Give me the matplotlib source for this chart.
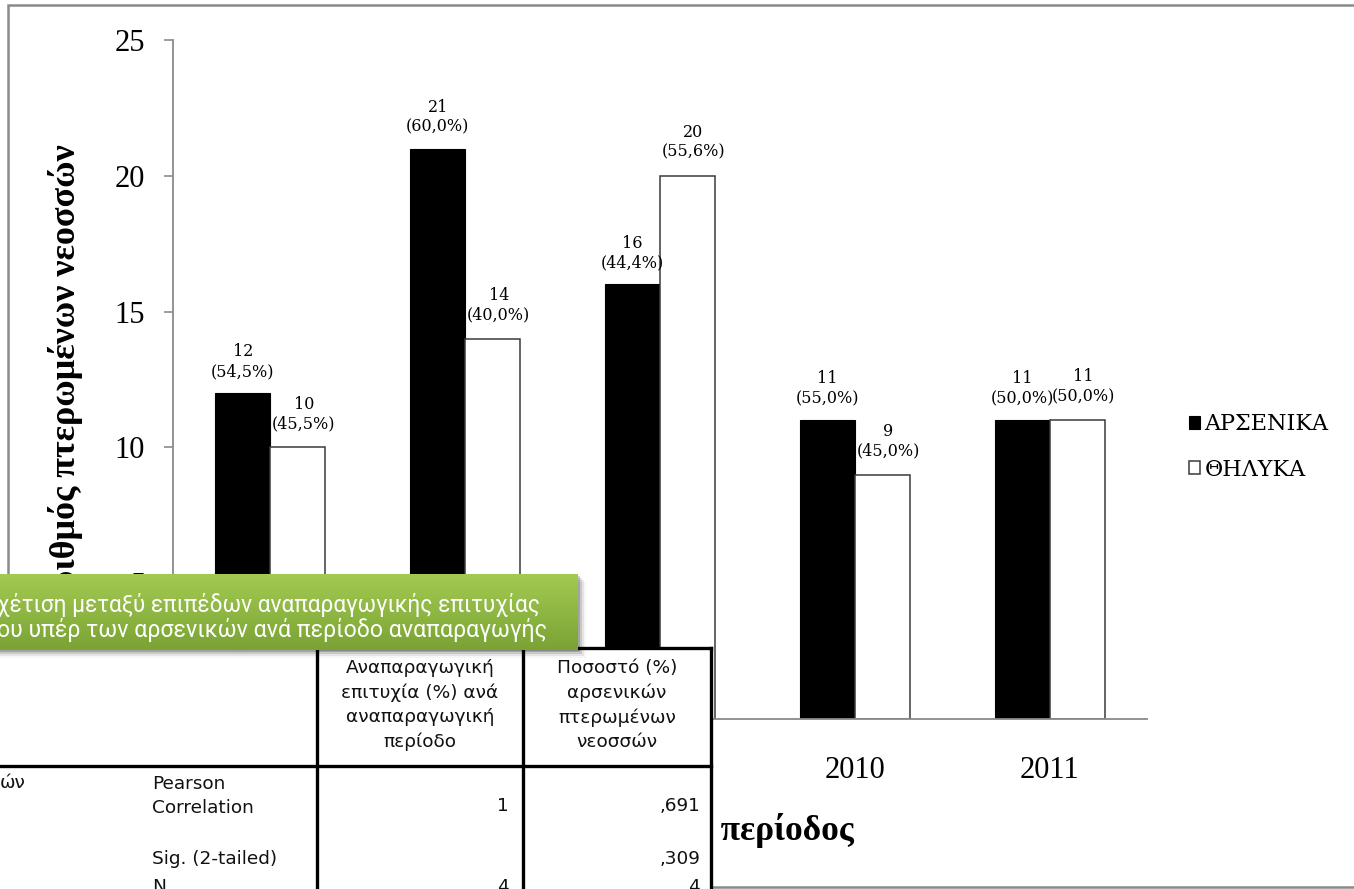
import numpy as np
import matplotlib
matplotlib.use("Agg")
import matplotlib.pyplot as plt
from matplotlib.patches import Rectangle
from matplotlib.lines import Line2D

# ---------------- data ----------------
periods = ["2007", "2008", "2009", "2010", "2011"]
males = [12, 21, 16, 11, 11]
females = [10, 14, 20, 9, 11]
male_pct = ["54,5%", "60,0%", "44,4%", "55,0%", "50,0%"]
female_pct = ["45,5%", "40,0%", "55,6%", "45,0%", "50,0%"]
series_names = ["ΑΡΣΕΝΙΚΑ", "ΘΗΛΥΚΑ"]
y_ticks = [0, 5, 10, 15, 20, 25]
y_label = "Αριθμός πτερωμένων νεοσσών"
x_label = "Αναπαραγωγική περίοδος"

banner_lines = ["χέτιση μεταξύ επιπέδων αναπαραγωγικής επιτυχίας",
                "ου υπέρ των αρσενικών ανά περίοδο αναπαραγωγής"]
table_headers = ["Αναπαραγωγική\nεπιτυχία (%) ανά\nαναπαραγωγική\nπερίοδο",
                 "Ποσοστό (%)\nαρσενικών\nπτερωμένων\nνεοσσών"]
table_row_var = "ών"
table_stats = ["Pearson\nCorrelation", "Sig. (2-tailed)", "N"]
table_col1 = ["1", "", "4"]
table_col2 = [",691", ",309", "4"]

# ---------------- layout helpers ----------------
W, H, DPI = 1354, 889, 100
fig = plt.figure(figsize=(W / DPI, H / DPI), dpi=DPI)
fig.patch.set_facecolor("white")


def fx(x):
    return x / W


def fy(y):
    return 1 - y / H


def px2pt(p):
    return p * 72 / DPI


SERIF = "Liberation Serif"
GRAY = "#8a8a8a"

# outer frame of the chart object
fig.add_artist(Rectangle((fx(8), fy(887)), (1420 - 8) / W, (887 - 5) / H,
                         transform=fig.transFigure, fill=False,
                         edgecolor=GRAY, lw=1.8, zorder=0.5))

# ---------------- chart ----------------
ax = fig.add_axes([fx(173), fy(719), (1147 - 173) / W, (719 - 40) / H])
ax.patch.set_alpha(0)
xpos = np.arange(len(periods))
bw = 0.2823
b1 = ax.bar(xpos - bw / 2, males, bw, color="black", edgecolor="black",
            linewidth=0.8, label=series_names[0])
b2 = ax.bar(xpos + bw / 2, females, bw, color="white", edgecolor="#3a3a3a",
            linewidth=1.1, label=series_names[1])
ax.set_xlim(-0.5, len(periods) - 0.5)
ax.set_ylim(0, 25)
ax.set_yticks(y_ticks)
ax.set_xticks(xpos)
ax.set_xticklabels(periods)
for s in ["top", "right"]:
    ax.spines[s].set_visible(False)
for s in ["left", "bottom"]:
    ax.spines[s].set_color(GRAY)
    ax.spines[s].set_linewidth(1.3)
ax.tick_params(axis="y", direction="out", length=px2pt(9), width=1.2,
               color=GRAY, pad=px2pt(19), labelsize=22)
ax.tick_params(axis="x", length=0, pad=px2pt(37), labelsize=22)
for lab in ax.get_xticklabels() + ax.get_yticklabels():
    lab.set_family(SERIF)

ax.set_ylabel(y_label, family=SERIF, fontweight="bold", fontsize=26)
ax.yaxis.set_label_coords(-(173 - 66) / 974, 0.5)
ax.yaxis.label.set_verticalalignment("center")
ax.set_xlabel(x_label, family=SERIF, fontweight="bold", fontsize=25.5)
ax.xaxis.set_label_coords(0.5, -(830 - 719) / 679)
ax.xaxis.label.set_verticalalignment("center")

LBL = dict(ha="center", va="bottom", fontsize=11.5, family="DejaVu Serif",
           linespacing=1.22, textcoords="offset points", annotation_clip=False)
for rect, v, p in zip(b1, males, male_pct):
    ax.annotate(f"{v}\n({p})", (rect.get_x() + rect.get_width() / 2, v),
                xytext=(0, px2pt(13)), **LBL)
for rect, v, p in zip(b2, females, female_pct):
    ax.annotate(f"{v}\n({p})", (rect.get_x() + rect.get_width() / 2, v),
                xytext=(px2pt(6), px2pt(15)), **LBL)

leg = ax.legend(handles=[b1, b2], loc="center left",
                bbox_to_anchor=(fx(1189), fy(447)),
                bbox_transform=fig.transFigure, frameon=False,
                prop={"family": "DejaVu Serif", "size": 16},
                handlelength=0.5, handleheight=0.5, handletextpad=0.2,
                labelspacing=1.05, borderaxespad=0, borderpad=0)

# ---------------- overlaid table ----------------
fig.add_artist(Rectangle((0, fy(889)), fx(712), (889 - 648) / H,
                         transform=fig.transFigure, facecolor="white",
                         edgecolor="none", zorder=5))
TL = dict(color="black", lw=2.4, transform=fig.transFigure, zorder=6,
          solid_capstyle="projecting")
col_a, col_b, col_c = 317, 523, 711
for xx in (col_a, col_b, col_c):
    fig.add_artist(Line2D([fx(xx), fx(xx)], [fy(648), fy(895)], **TL))
fig.add_artist(Line2D([fx(col_a), fx(col_c)], [fy(648), fy(648)], **TL))
fig.add_artist(Line2D([0, fx(col_c)], [fy(766), fy(766)], **TL))

TF = dict(family="DejaVu Sans", fontsize=13.3, zorder=7, color="#111111")
fig.text(fx((col_a + col_b) / 2), fy(705), table_headers[0], ha="center",
         va="center", linespacing=1.42, **TF)
fig.text(fx((col_b + col_c) / 2), fy(705), table_headers[1], ha="center",
         va="center", linespacing=1.42, **TF)
fig.text(fx(0), fy(783), table_row_var, ha="left", va="center", **TF)
stat_y = [796, 859, 887]
val_y = [806, 859, 887]
for s, c1, c2, sy, vy in zip(table_stats, table_col1, table_col2, stat_y, val_y):
    fig.text(fx(152), fy(sy), s, ha="left", va="center", linespacing=1.45, **TF)
    if c1:
        fig.text(fx(col_b - 14), fy(vy), c1, ha="right", va="center", **TF)
    fig.text(fx(col_c - 11), fy(vy), c2, ha="right", va="center", **TF)

# ---------------- green banner ----------------
bx0, bx1, by0, by1 = 0, 578, 574, 650
for i, a in enumerate([0.18, 0.12, 0.07, 0.035]):
    fig.add_artist(Rectangle((fx(bx0), fy(by1 + 2 + i * 2)), fx(bx1 + 2 + i * 2),
                             (by1 - by0) / H, transform=fig.transFigure,
                             facecolor="black", alpha=a, edgecolor="none",
                             zorder=9))
bax = fig.add_axes([fx(bx0), fy(by1), fx(bx1 - bx0), (by1 - by0) / H], zorder=10)
top_c = np.array([163, 203, 82]) / 255
bot_c = np.array([122, 163, 52]) / 255
t = np.linspace(0, 1, 64)[:, None, None]
grad = top_c[None, None, :] * (1 - t) + bot_c[None, None, :] * t
bax.imshow(grad, aspect="auto", extent=[0, 1, 0, 1])
bax.set_axis_off()

renderer = fig.canvas.get_renderer()
for line, yc, target in zip(banner_lines, [605, 630], [541, 548]):
    tt = fig.text(fx(-3), fy(yc), line, ha="left", va="center", color="white",
                  family="Roboto", fontsize=15, zorder=11)
    w = tt.get_window_extent(renderer).width
    tt.set_fontsize(15 * (target + 3) / w)

fig.savefig("out.png", dpi=DPI)
